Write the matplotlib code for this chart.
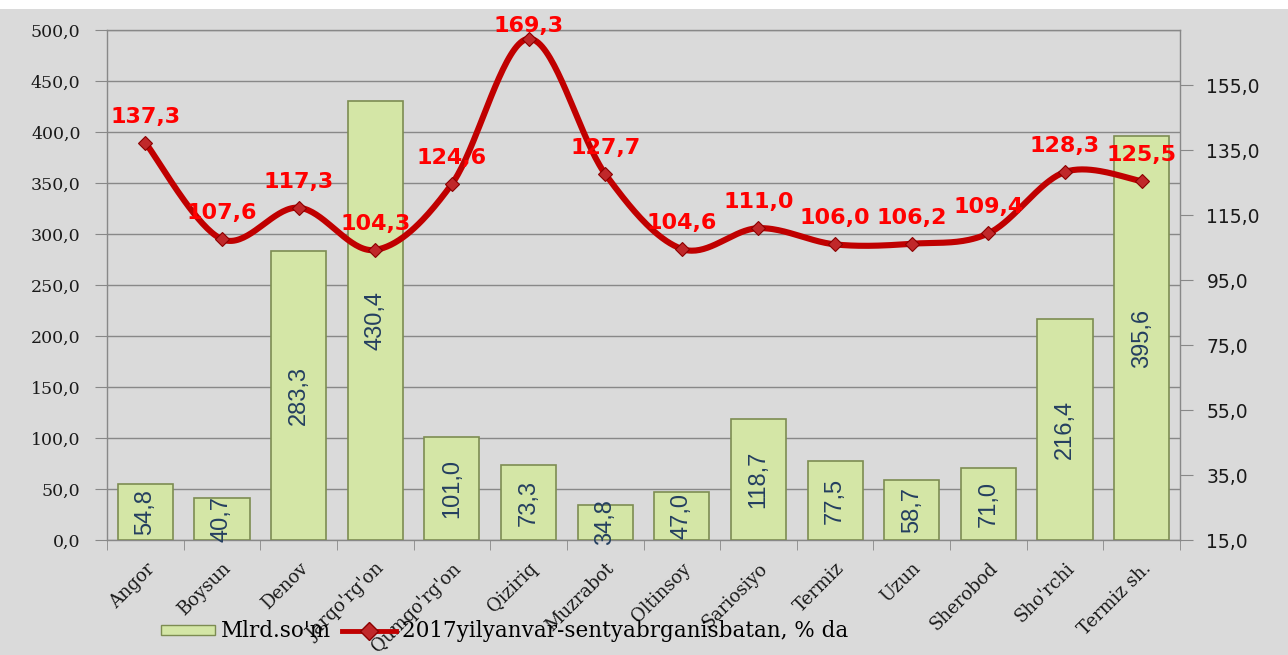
import numpy as np
import matplotlib
matplotlib.use("Agg")
import matplotlib.pyplot as plt
from matplotlib.patches import Patch, Rectangle
from matplotlib.lines import Line2D
from matplotlib.ticker import FuncFormatter

categories = ["Angor", "Boysun", "Denov", "Jarqo'rg'on", "Qumqo'rg'on", "Qiziriq",
              "Muzrabot", "Oltinsoy", "Sariosiyo", "Termiz", "Uzun", "Sherobod",
              "Sho'rchi", "Termiz sh."]
mlrd_som = [54.8, 40.7, 283.3, 430.4, 101.0, 73.3, 34.8, 47.0, 118.7, 77.5, 58.7, 71.0, 216.4, 395.6]
percent = [137.3, 107.6, 117.3, 104.3, 124.6, 169.3, 127.7, 104.6, 111.0, 106.0, 106.2, 109.4, 128.3, 125.5]
left_ticks = [0, 50, 100, 150, 200, 250, 300, 350, 400, 450, 500]
right_ticks = [15, 35, 55, 75, 95, 115, 135, 155]
bar_legend = "Mlrd.so'm"
line_legend = "2017yilyanvar-sentyabrganisbatan, % da"

BG = "#dadada"
fig = plt.figure(figsize=(12.88, 6.55), dpi=100, facecolor=BG)
fig.patches.append(Rectangle((0, 1 - 9 / 655), 1, 9 / 655, transform=fig.transFigure,
                             facecolor="white", edgecolor="none", zorder=0))
ax = fig.add_axes([107 / 1288, 1 - 540 / 655, (1180 - 107) / 1288, (540 - 30) / 655])
ax.set_facecolor(BG)
x = np.arange(len(categories))

# bars
ax.bar(x, mlrd_som, width=0.72, facecolor="#d4e6a6", edgecolor="#7d8c52", linewidth=1.2, zorder=3)
for xi, v in zip(x, mlrd_som):
    ax.text(xi, v / 2, f"{v:.1f}".replace(".", ","), rotation=90, ha="center", va="center",
            fontsize=17, family="Liberation Sans", color="#243f60", zorder=4)

ax.set_xlim(-0.5, len(categories) - 0.5)
ax.set_ylim(0, 500)
ax.set_yticks(left_ticks)
ax.yaxis.set_major_formatter(FuncFormatter(lambda v, p: f"{v:.1f}".replace(".", ",")))
ax.grid(axis="y", color="#888888", linewidth=1.0, zorder=1)
ax.set_axisbelow(True)
for s in ax.spines.values():
    s.set_color("#888888")
    s.set_linewidth(1.0)
ax.tick_params(axis="y", direction="out", length=9, color="#888888", pad=10,
               labelsize=12.5, labelcolor="#1a1a1a")
for lab in ax.get_yticklabels():
    lab.set_family("DejaVu Serif")
ax.set_xticks(x)
ax.set_xticklabels(categories, rotation=45, ha="right", va="top", rotation_mode="anchor",
                   family="DejaVu Serif", fontsize=13, color="#1a1a1a")
ax.tick_params(axis="x", which="major", length=0, pad=14)
ax.set_xticks(np.arange(-0.5, len(categories), 1), minor=True)
ax.tick_params(axis="x", which="minor", direction="out", length=7, color="#888888")

# line on secondary axis
ax2 = ax.twinx()
ax2.set_ylim(15, 172)
ax2.set_yticks(right_ticks)
ax2.yaxis.set_major_formatter(FuncFormatter(lambda v, p: f"{v:.1f}".replace(".", ",")))
ax2.tick_params(axis="y", direction="out", length=9, color="#888888", pad=10,
                labelsize=13.5, labelcolor="#1a1a1a")
for s in ax2.spines.values():
    s.set_visible(False)

# smooth curve (Catmull-Rom -> cubic Bezier through the data points)
px = np.array(x, dtype=float)
py = np.array(percent, dtype=float)
n = len(px)
cx, cy = [], []
t = np.linspace(0, 1, 40)
for i in range(n - 1):
    i0, i3 = max(i - 1, 0), min(i + 2, n - 1)
    p0 = np.array([px[i], py[i]])
    p3 = np.array([px[i + 1], py[i + 1]])
    c1 = p0 + (np.array([px[i + 1], py[i + 1]]) - np.array([px[i0], py[i0]])) / 6
    c2 = p3 - (np.array([px[i3], py[i3]]) - np.array([px[i], py[i]])) / 6
    b = ((1 - t) ** 3)[:, None] * p0 + (3 * (1 - t) ** 2 * t)[:, None] * c1 + \
        (3 * (1 - t) * t ** 2)[:, None] * c2 + (t ** 3)[:, None] * p3
    cx.extend(b[:, 0]); cy.extend(b[:, 1])
ax2.plot(cx, cy, color="#c00000", linewidth=4.4, solid_capstyle="round", zorder=5, clip_on=False)
ax2.plot(px, py, linestyle="none", marker="D", markersize=7.5, markerfacecolor="#c0282a",
         markeredgecolor="#8b0000", markeredgewidth=0.8, zorder=6, clip_on=False)

fig.canvas.draw()
H = fig.get_size_inches()[1] * fig.dpi
for xi, v in zip(px, py):
    _, yd = ax2.transData.transform((xi, v))
    off = 11.5
    top_px = yd + off * fig.dpi / 72 + 17
    if top_px > H - 20:
        off = max(2.0, (H - 20 - 17 - yd) * 72 / fig.dpi)
    ax2.annotate(f"{v:.1f}".replace(".", ","), (xi, v), xytext=(0, off), textcoords="offset points",
                 ha="center", va="bottom", fontsize=16, fontweight="bold", family="DejaVu Sans",
                 color="#ff0000", zorder=7, annotation_clip=False)

handles = [Patch(facecolor="#d4e6a6", edgecolor="#7d8c52", linewidth=1.0),
           Line2D([0], [0], color="#c00000", linewidth=3.5, marker="D", markersize=9,
                  markerfacecolor="#c0282a", markeredgecolor="#8b0000")]
fig.legend(handles, [bar_legend, line_legend], loc="center", bbox_to_anchor=(0.392, 0.036),
           ncol=2, frameon=False, prop={"family": "DejaVu Serif", "size": 15.5},
           handlelength=2.5, handleheight=0.35, handletextpad=0.3, columnspacing=0.5)

fig.savefig("out.png", dpi=100, facecolor=fig.get_facecolor())
